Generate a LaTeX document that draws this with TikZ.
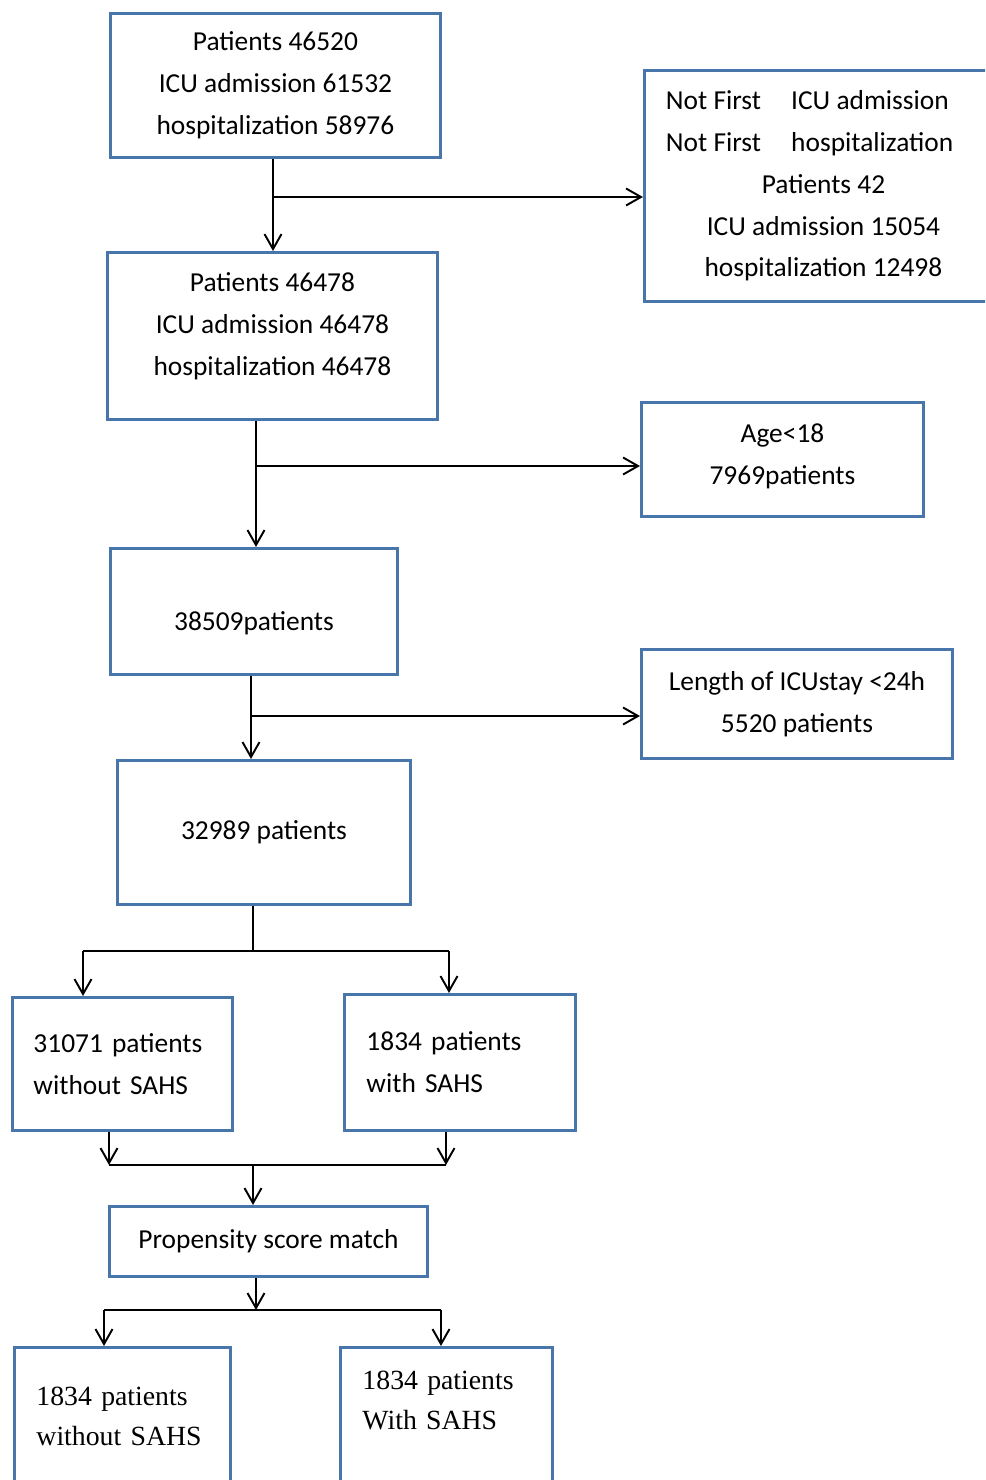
\documentclass[tikz,border=0pt]{standalone}
\usepackage{fontspec}
\setmainfont{Carlito}
\newfontfamily\timesfont{Liberation Serif}
\usetikzlibrary{arrows.meta}
\definecolor{boxblue}{RGB}{72,118,170}
\tikzset{
  box/.style={draw=boxblue, line width=1.7pt, rectangle, anchor=north west,
    align=center, inner sep=0pt, font=\fontsize{15.6pt}{23.8pt}\selectfont},
  leftbox/.style={box, align=left},
  serifbox/.style={leftbox, font=\timesfont\fontsize{15.8pt}{22.8pt}\selectfont},
  flow/.style={black, line width=1.1pt, -{Straight Barb[length=0.3cm, width=0.34cm]}},
  link/.style={black, line width=1.1pt},
}

\begin{document}
\begin{tikzpicture}[x=0.02cm, y=-0.02cm]
  % 0. page frame (boxes run off the right and lower edge)
  \useasboundingbox (0,0) rectangle (985,1480);
  \clip (0,0) rectangle (985,1480);

  % 1. selection steps
  \node[box, minimum width=6.6cm, minimum height=2.88cm] (all) at (109,12)
    {Patients 46520\\ICU admission 61532\\hospitalization 58976};
  \node[box, minimum width=7.16cm, minimum height=4.62cm] (notfirst) at (643,69)
    {\makebox[6.3cm][l]{Not First\hspace{1.1em}ICU admission}\\
     \makebox[6.3cm][l]{Not First\hspace{1.1em}hospitalization}\\
     Patients 42\\ICU admission 15054\\hospitalization 12498};
  \node[box, minimum width=6.6cm, minimum height=3.34cm, text depth=0.48cm] (first) at (106,251)
    {Patients 46478\\ICU admission 46478\\hospitalization 46478};
  \node[box, minimum width=5.64cm, minimum height=2.28cm, text depth=0.23cm] (young) at (640,401)
    {Age<18\\7969patients};
  \node[box, minimum width=5.74cm, minimum height=2.52cm, text height=0.84cm] (adult) at (109,547)
    {38509patients};
  \node[box, minimum width=6.22cm, minimum height=2.18cm] (short) at (640,648)
    {Length of ICUstay <24h\\5520 patients};
  \node[box, minimum width=5.86cm, minimum height=2.88cm] (cohort) at (116,759)
    {32989 patients};

  % 2. groups and matching
  \node[leftbox, minimum width=4.4cm, minimum height=2.66cm, text width=3.56cm] (nosahs) at (11,996)
    {31071 patients\\without SAHS};
  \node[leftbox, minimum width=4.62cm, minimum height=2.72cm, text width=3.74cm] (sahs) at (343,993)
    {1834 patients\\with SAHS};
  \node[box, minimum width=6.36cm, minimum height=1.4cm] (psm) at (108,1205)
    {Propensity score match};
  \node[serifbox, minimum width=4.32cm, minimum height=3cm, text width=3.44cm, text depth=1.04cm] (psmno) at (13,1346)
    {1834 patients\\without SAHS};
  \node[serifbox, minimum width=4.24cm, minimum height=3cm, text width=3.36cm, text depth=1.68cm] (psmyes) at (339,1346)
    {1834 patients\\With SAHS};

  % 3. exclusions branch off to the right
  \coordinate (j1) at (273,197);
  \coordinate (j2) at (256,466);
  \coordinate (j3) at (251,716);
  \draw[flow] (all.south -| j1) -- (first.north -| j1);
  \draw[flow] (j1) -- (j1 -| notfirst.west);
  \draw[flow] (first.south -| j2) -- (adult.north -| j2);
  \draw[flow] (j2) -- (j2 -| young.west);
  \draw[flow] (adult.south -| j3) -- (cohort.north -| j3);
  \draw[flow] (j3) -- (j3 -| short.west);

  % 4. split into the two groups
  \coordinate (j4) at (253,951);
  \coordinate (sl) at (83,951);
  \coordinate (sr) at (449,951);
  \draw[link] (cohort.south -| j4) -- (j4);
  \draw[link] (sl) -- (sr);
  \draw[flow] (sl) -- (nosahs.north -| sl);
  \draw[flow] (sr) -- (sahs.north -| sr);

  % 5. both groups go into the matching
  \coordinate (j5) at (253,1165);
  \coordinate (ml) at (109,1165);
  \coordinate (mr) at (446,1165);
  \draw[flow] (nosahs.south -| ml) -- (ml);
  \draw[flow] (sahs.south -| mr) -- (mr);
  \draw[link] (ml) -- (mr);
  \draw[flow] (j5) -- (psm.north -| j5);

  % 6. matched groups
  \coordinate (j6) at (256,1310);
  \coordinate (pl) at (104,1310);
  \coordinate (pr) at (441,1310);
  \draw[flow] (psm.south -| j6) -- (j6);
  \draw[link] (pl) -- (pr);
  \draw[flow] (pl) -- (psmno.north -| pl);
  \draw[flow] (pr) -- (psmyes.north -| pr);
\end{tikzpicture}
\end{document}
